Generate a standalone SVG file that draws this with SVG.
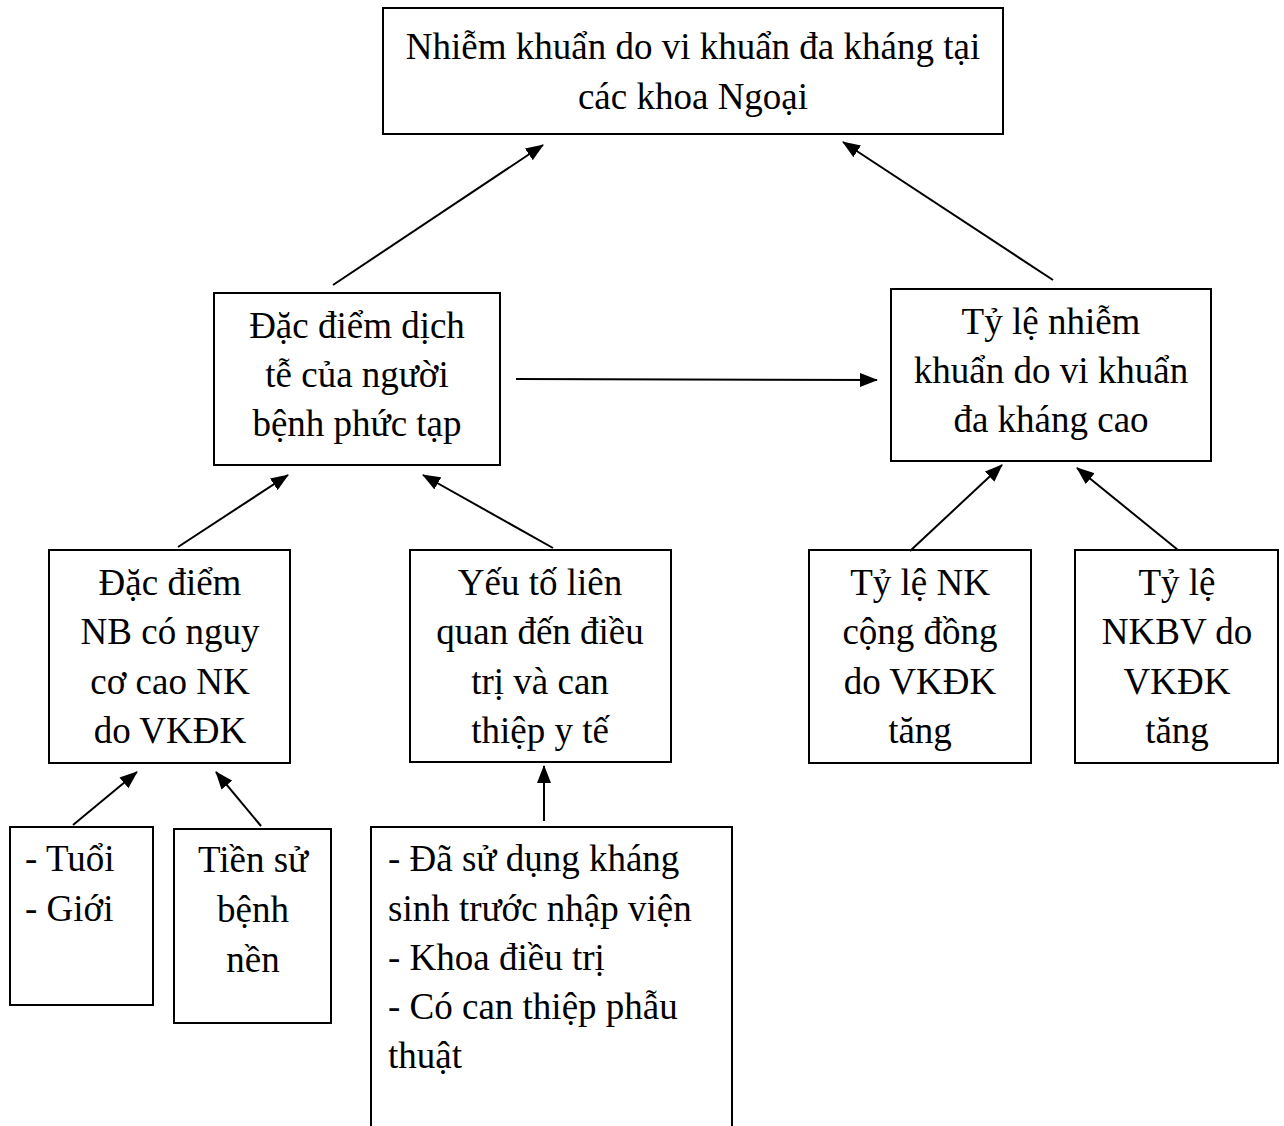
<svg xmlns="http://www.w3.org/2000/svg" width="1284" height="1126" viewBox="0 0 1284 1126">
<style>
rect.box{fill:#fff;stroke:#000;stroke-width:2}
text{font-family:"Liberation Serif","Times New Roman",serif;font-size:37px;fill:#000}
.c{text-anchor:middle}
.conn line{stroke:#000;stroke-width:2;marker-end:url(#ah)}
</style>
<defs>
<marker id="ah" markerUnits="userSpaceOnUse" markerWidth="18" markerHeight="14" refX="17" refY="7" orient="auto" viewBox="0 0 18 14">
<path d="M0,0 L18,7 L0,14 z" fill="#000"/>
</marker>
</defs>
<rect width="1284" height="1126" fill="#fff"/>
<g id="n1"><rect class="box" x="383" y="8" width="620" height="126"/>
<text class="c" x="693" y="59">Nhiễm khuẩn do vi khuẩn đa kháng tại</text>
<text class="c" x="693" y="109">các khoa Ngoại</text></g>
<g id="n2"><rect class="box" x="214" y="293" width="286" height="172"/>
<text class="c" x="357" y="338">Đặc điểm dịch</text>
<text class="c" x="357" y="387">tễ của người</text>
<text class="c" x="357" y="436">bệnh phức tạp</text></g>
<g id="n3"><rect class="box" x="891" y="289" width="320" height="172"/>
<text class="c" x="1051" y="334">Tỷ lệ nhiễm</text>
<text class="c" x="1051" y="383">khuẩn do vi khuẩn</text>
<text class="c" x="1051" y="432">đa kháng cao</text></g>
<g id="n4"><rect class="box" x="49" y="550" width="241" height="213"/>
<text class="c" x="170" y="595">Đặc điểm</text>
<text class="c" x="170" y="644">NB có nguy</text>
<text class="c" x="170" y="694">cơ cao NK</text>
<text class="c" x="170" y="743">do VKĐK</text></g>
<g id="n5"><rect class="box" x="410" y="550" width="261" height="212"/>
<text class="c" x="540" y="595">Yếu tố liên</text>
<text class="c" x="540" y="644">quan đến điều</text>
<text class="c" x="540" y="694">trị và can</text>
<text class="c" x="540" y="743">thiệp y tế</text></g>
<g id="n6"><rect class="box" x="809" y="550" width="222" height="213"/>
<text class="c" x="920" y="595">Tỷ lệ NK</text>
<text class="c" x="920" y="644">cộng đồng</text>
<text class="c" x="920" y="694">do VKĐK</text>
<text class="c" x="920" y="743">tăng</text></g>
<g id="n7"><rect class="box" x="1075" y="550" width="203" height="213"/>
<text class="c" x="1177" y="595">Tỷ lệ</text>
<text class="c" x="1177" y="644">NKBV do</text>
<text class="c" x="1177" y="694">VKĐK</text>
<text class="c" x="1177" y="743">tăng</text></g>
<g id="n8"><rect class="box" x="10" y="827" width="143" height="178"/>
<text x="25" y="871">- Tuổi</text>
<text x="25" y="921">- Giới</text></g>
<g id="n9"><rect class="box" x="174" y="829" width="157" height="194"/>
<text class="c" x="253" y="872">Tiền sử</text>
<text class="c" x="253" y="922">bệnh</text>
<text class="c" x="253" y="972">nền</text></g>
<g id="n10"><rect class="box" x="371" y="827" width="361" height="320"/>
<text x="388" y="871">- Đã sử dụng kháng</text>
<text x="388" y="921">sinh trước nhập viện</text>
<text x="388" y="970">- Khoa điều trị</text>
<text x="388" y="1019">- Có can thiệp phẫu</text>
<text x="388" y="1068">thuật</text></g>
<g id="connectors" class="conn">
<line x1="333" y1="285" x2="543" y2="145"/>
<line x1="1053" y1="280" x2="843" y2="142"/>
<line x1="516" y1="379" x2="877" y2="380"/>
<line x1="178" y1="547" x2="288" y2="475"/>
<line x1="553" y1="548" x2="423" y2="475"/>
<line x1="910" y1="551" x2="1002" y2="465"/>
<line x1="1178" y1="550" x2="1077" y2="468"/>
<line x1="73" y1="825" x2="137" y2="772"/>
<line x1="261" y1="826" x2="216" y2="772"/>
<line x1="544" y1="821" x2="544" y2="766"/>
</g>
</svg>
